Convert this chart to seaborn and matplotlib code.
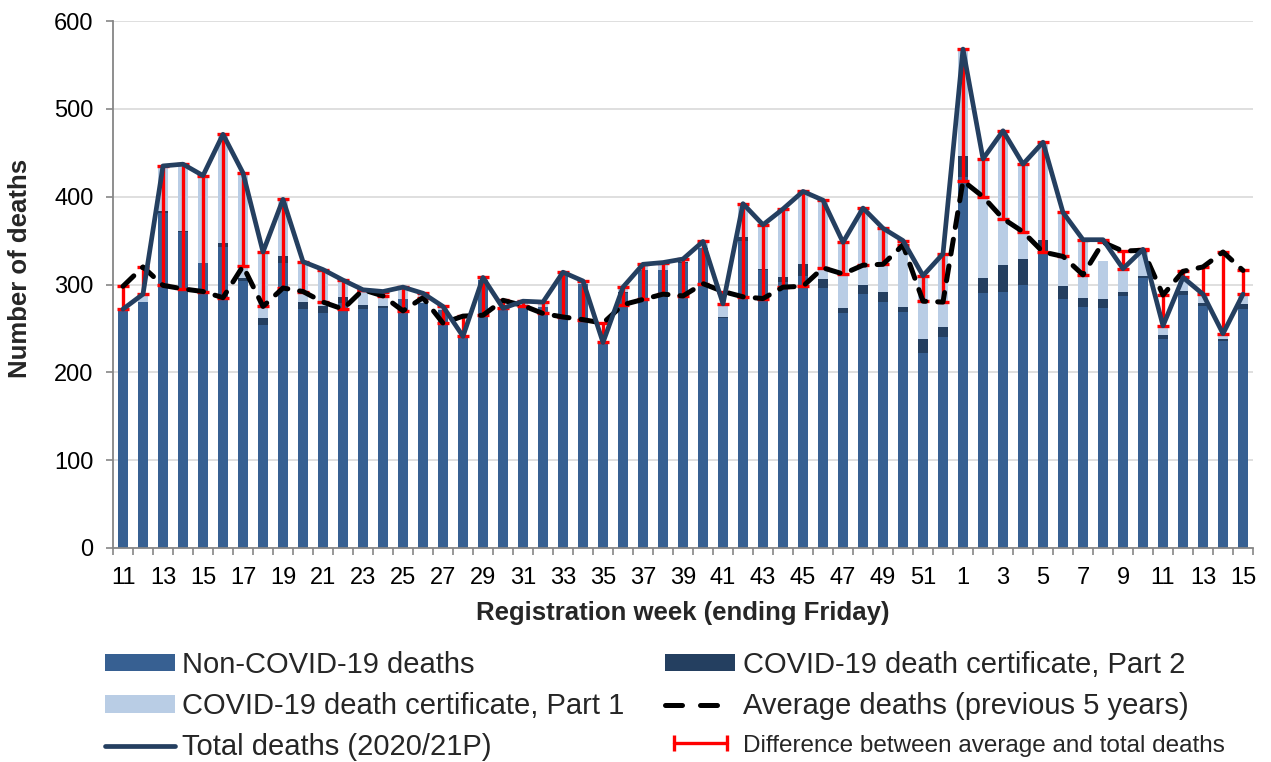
import numpy as np
import pandas as pd
import matplotlib
matplotlib.use("Agg")
import matplotlib.pyplot as plt
import seaborn as sns
from matplotlib import font_manager
from matplotlib.lines import Line2D
from matplotlib.patches import Patch
from matplotlib.legend_handler import HandlerLine2D
from matplotlib.ticker import FixedLocator, MultipleLocator

# Registration weeks: 2020 weeks 11-52 followed by 2021 weeks 1-15
weeks = list(range(11, 53)) + list(range(1, 16))

non_covid = [272, 280, 381, 360, 325, 343, 304, 254, 324, 272,
             267, 279, 272, 273, 283, 279, 271, 240, 305, 272,
             277, 274, 311, 301, 233, 290, 316, 316, 325, 341,
             262, 349, 317, 303, 310, 296, 267, 289, 280, 269,
             222, 240,
             422, 290, 292, 300, 337, 283, 274, 273, 287, 307,
             238, 288, 276, 236, 272]

covid_part2 = [0, 0, 3, 1, 0, 4, 3, 8, 8, 8,
               9, 7, 5, 3, 0, 0, 0, 0, 0, 0,
               0, 0, 0, 0, 0, 2, 1, 1, 1, 1,
               1, 5, 1, 5, 13, 10, 6, 11, 12, 5,
               16, 12,
               24, 17, 30, 29, 14, 15, 11, 11, 5, 3,
               4, 5, 3, 2, 6]

covid_part1 = [0, 9, 51, 76, 99, 124, 120, 75, 65, 46,
               41, 19, 17, 16, 14, 11, 4, 1, 3, 1,
               4, 6, 3, 3, 1, 5, 6, 8, 3, 7,
               15, 38, 50, 78, 83, 90, 75, 87, 72, 76,
               72, 83,
               122, 136, 153, 108, 111, 84, 66, 43, 26, 30,
               11, 15, 10, 6, 11]

total_deaths = [272, 289, 435, 437, 424, 471, 427, 337, 397, 326,
                317, 305, 294, 292, 297, 290, 275, 241, 308, 273,
                281, 280, 314, 304, 234, 297, 323, 325, 329, 349,
                278, 392, 368, 386, 406, 396, 348, 387, 364, 350,
                310, 335,
                568, 443, 475, 437, 462, 382, 351, 351, 318, 340,
                253, 308, 289, 244, 289]

average_deaths = [298, 320, 299, 295, 292, 285, 321, 275, 296, 292,
                  280, 272, 294, 287, 270, 285, 256, 264, 265, 282,
                  276, 267, 263, 260, 256, 277, 283, 289, 287, 301,
                  292, 286, 284, 297, 298, 319, 312, 322, 323, 345,
                  281, 280,
                  418, 400, 375, 360, 337, 332, 311, 348, 338, 339,
                  288, 315, 320, 337, 316]

C_NONCOVID = "#376092"
C_PART2 = "#243F60"
C_PART1 = "#B9CDE5"
C_TOTAL = "#243F60"
C_DIFF = "#FF0000"
AVG_DASHES = (3.0, 2.4)

df = pd.DataFrame({
    "pos": np.arange(len(weeks)),
    "non_covid": non_covid,
    "part2": covid_part2,
    "part1": covid_part1,
    "total": total_deaths,
    "average": average_deaths,
})
# cumulative heights for the stacked layers
df["with_part2"] = df["non_covid"] + df["part2"]
df["with_part1"] = df["with_part2"] + df["part1"]

sns.set_theme(style="white")
plt.rcParams["font.family"] = ["Liberation Sans", "DejaVu Sans"]

names = {f.name for f in font_manager.fontManager.ttflist}
narrow = "Liberation Sans Narrow" if "Liberation Sans Narrow" in names else None

W, H = 1271, 762
fig = plt.figure(figsize=(W / 100, H / 100), dpi=100)
ax = fig.add_axes([113 / W, 1 - 548 / H, 1140 / W, 527 / H])

bw = 0.47
sns.barplot(data=df, x="pos", y="with_part1", color=C_PART1, saturation=1,
            width=bw, errorbar=None, ax=ax, zorder=2, linewidth=0)
sns.barplot(data=df, x="pos", y="with_part2", color=C_PART2, saturation=1,
            width=bw, errorbar=None, ax=ax, zorder=2, linewidth=0)
sns.barplot(data=df, x="pos", y="non_covid", color=C_NONCOVID, saturation=1,
            width=bw, errorbar=None, ax=ax, zorder=2, linewidth=0)

# red bars spanning from the 5-year average to the total
below = np.clip(df["total"] - df["average"], 0, None)
above = np.clip(df["average"] - df["total"], 0, None)
ax.errorbar(df["pos"], df["total"], yerr=[below, above], fmt="none",
            ecolor=C_DIFF, elinewidth=2.4, capsize=4.6, capthick=2.4, zorder=3)

sns.lineplot(data=df, x="pos", y="average", color="black", lw=3.6, ax=ax,
             zorder=4)
avg_line = ax.lines[-1]
avg_line.set_dashes(AVG_DASHES)
avg_line.set_dash_capstyle("round")

sns.lineplot(data=df, x="pos", y="total", color=C_TOTAL, lw=3.4, ax=ax,
             zorder=5)
ax.lines[-1].set_solid_joinstyle("round")

ax.set_xlim(-0.5, len(weeks) - 0.5)
ax.set_ylim(0, 600)
ax.yaxis.set_major_locator(MultipleLocator(100))
ax.yaxis.grid(True, color="#D9D9D9", lw=1.2)
ax.set_axisbelow(True)

ax.xaxis.set_major_locator(FixedLocator(df["pos"][::2]))
ax.set_xticklabels([str(w) for w in weeks[::2]])
ax.xaxis.set_minor_locator(FixedLocator(np.arange(-0.5, len(weeks), 1.0)))
ax.tick_params(axis="x", which="major", length=0, pad=14, labelsize=17,
               labelcolor="black")
ax.tick_params(axis="x", which="minor", length=5, width=1.2, color="#868686",
               direction="out", bottom=True)
ax.tick_params(axis="y", which="major", length=5, width=1.2, color="#868686",
               direction="out", left=True, pad=9, labelsize=17,
               labelcolor="black")

for side in ("top", "right"):
    ax.spines[side].set_visible(False)
for side in ("left", "bottom"):
    ax.spines[side].set_color("#868686")
    ax.spines[side].set_linewidth(1.3)

ax.set_xlabel("Registration week (ending Friday)", fontsize=18.5,
              fontweight="bold", labelpad=8)
ax.set_ylabel("Number of deaths", fontsize=18.5, fontweight="bold")
ax.yaxis.set_label_coords(-0.071, 0.53)

handles = [
    Patch(facecolor=C_NONCOVID, edgecolor="none"),
    Patch(facecolor=C_PART1, edgecolor="none"),
    Line2D([], [], color=C_TOTAL, lw=3.4),
    Patch(facecolor=C_PART2, edgecolor="none"),
    Line2D([], [], color="black", lw=3.6, dashes=(3.4, 3.6),
           dash_capstyle="round"),
    Line2D([], [], color=C_DIFF, lw=2.4, marker="|", markersize=12,
           markeredgewidth=2.4),
]
labels = [
    "Non-COVID-19 deaths",
    "COVID-19 death certificate, Part 1",
    "Total deaths (2020/21P)",
    "COVID-19 death certificate, Part 2",
    "Average deaths (previous 5 years)",
    "Difference between average and total deaths",
]
leg = fig.legend(handles, labels, ncol=2, loc="upper left",
                 bbox_to_anchor=(105 / W, 1 - 651 / H), frameon=False,
                 fontsize=21, handlelength=2.4, handleheight=0.55,
                 handletextpad=0.25, columnspacing=1.4, labelspacing=0.45,
                 borderpad=0, borderaxespad=0,
                 handler_map={handles[5]: HandlerLine2D(numpoints=2)})
diff_text = leg.get_texts()[5]
if narrow:
    diff_text.set_fontfamily([narrow, "Liberation Sans"])
    diff_text.set_fontsize(20)
else:
    diff_text.set_fontsize(17.5)

fig.savefig("out.png", dpi=100)
